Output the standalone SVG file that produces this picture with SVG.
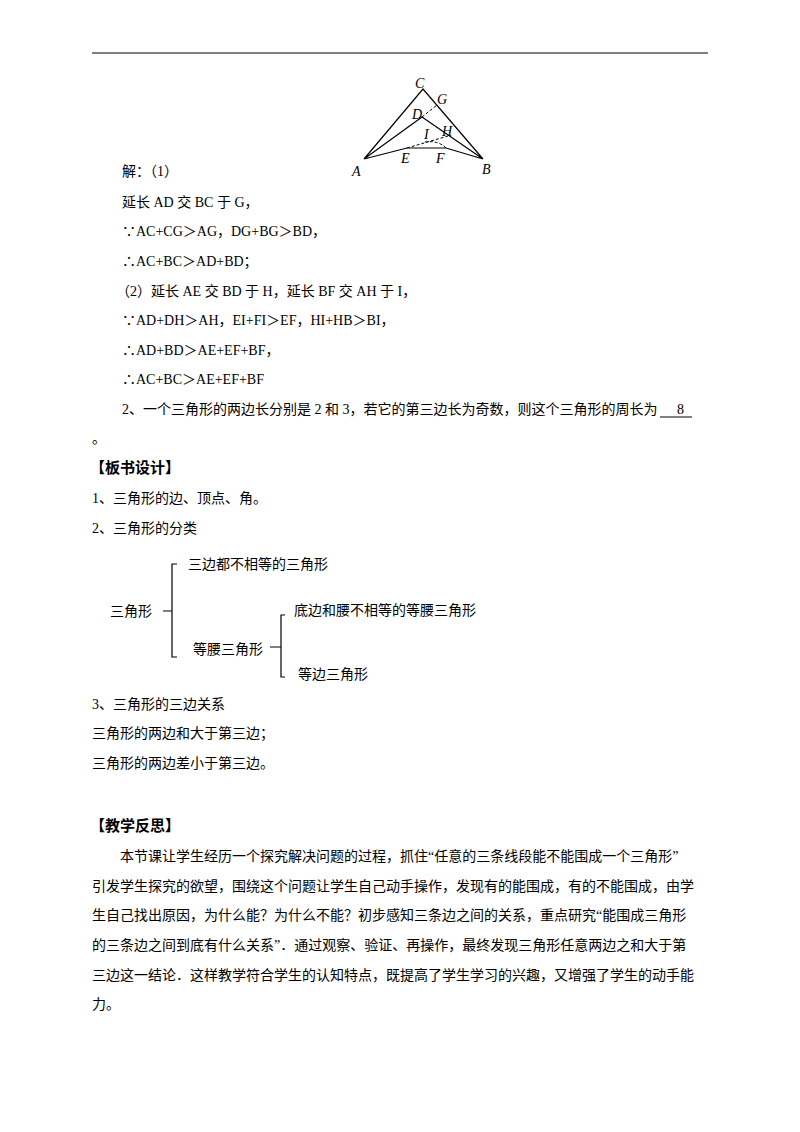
<svg xmlns="http://www.w3.org/2000/svg" width="800" height="1132" viewBox="0 0 800 1132">
<style>
text{font-family:"Liberation Serif","Noto Sans CJK SC",serif;font-size:14px;fill:#000}
.h{font-weight:bold;font-size:15px}
.l{font-style:italic;font-size:14px}
.s{stroke:#000;stroke-width:1.2;fill:none}
.d{stroke:#000;stroke-width:1;fill:none;stroke-dasharray:3,2}
</style>
<rect width="800" height="1132" fill="#fff"/>
<line x1="92" y1="53" x2="708" y2="53" stroke="#000" stroke-width="1"/>
<g id="figure">
<path class="s" d="M364,159 L423,89 L483,159 M364,159 L422,117 L483,159 M364,159 L407,148 L446,148 L483,159"/>
<path class="d" d="M422,117 L437,105 M407,148 L448,136 M446,148 Q438,140 425,142"/>
<text class="l" x="415" y="88">C</text>
<text class="l" x="437" y="104">G</text>
<text class="l" x="412" y="119">D</text>
<text class="l" x="442" y="136">H</text>
<text class="l" x="424" y="139">I</text>
<text class="l" x="401" y="163">E</text>
<text class="l" x="436" y="163">F</text>
<text class="l" x="352" y="176">A</text>
<text class="l" x="482" y="174">B</text>
</g>
<text x="122" y="176">解：（1）</text>
<text x="122" y="207">延长 AD 交 BC 于 G，</text>
<text x="122" y="236">∵AC+CG＞AG，DG+BG＞BD，</text>
<text x="122" y="266">∴AC+BC＞AD+BD；</text>
<text x="116" y="296">（2）延长 AE 交 BD 于 H，延长 BF 交 AH 于 I，</text>
<text x="122" y="325">∵AD+DH＞AH，EI+FI＞EF，HI+HB＞BI，</text>
<text x="122" y="355">∴AD+BD＞AE+EF+BF，</text>
<text x="122" y="384">∴AC+BC＞AE+EF+BF</text>
<text x="122" y="414">2、一个三角形的两边长分别是 2 和 3，若它的第三边长为奇数，则这个三角形的周长为</text>
<text x="677" y="414">8</text>
<line x1="660" y1="417" x2="692" y2="417" stroke="#000"/>
<text x="92" y="443">。</text>
<text class="h" x="90" y="473">【板书设计】</text>
<text x="92" y="503">1、三角形的边、顶点、角。</text>
<text x="92" y="533">2、三角形的分类</text>
<g id="tree">
<text x="110" y="616">三角形</text>
<text x="188" y="569">三边都不相等的三角形</text>
<text x="193" y="654">等腰三角形</text>
<text x="294" y="615">底边和腰不相等的等腰三角形</text>
<text x="298" y="679">等边三角形</text>
<path class="s" d="M177,564 L172,564 L172,657 L177,657 M172,611 L163,611"/>
<path class="s" d="M285,615 L281,615 L281,677 L285,677 M281,647 L270,647"/>
</g>
<text x="92" y="709">3、三角形的三边关系</text>
<text x="92" y="738">三角形的两边和大于第三边；</text>
<text x="92" y="768">三角形的两边差小于第三边。</text>
<text class="h" x="90" y="831">【教学反思】</text>
<text x="120" y="861">本节课让学生经历一个探究解决问题的过程，抓住“任意的三条线段能不能围成一个三角形”</text>
<text x="92" y="891">引发学生探究的欲望，围绕这个问题让学生自己动手操作，发现有的能围成，有的不能围成，由学</text>
<text x="92" y="920">生自己找出原因，为什么能？为什么不能？初步感知三条边之间的关系，重点研究“能围成三角形</text>
<text x="92" y="950">的三条边之间到底有什么关系”．通过观察、验证、再操作，最终发现三角形任意两边之和大于第</text>
<text x="92" y="980">三边这一结论．这样教学符合学生的认知特点，既提高了学生学习的兴趣，又增强了学生的动手能</text>
<text x="92" y="1009">力。</text>
</svg>
